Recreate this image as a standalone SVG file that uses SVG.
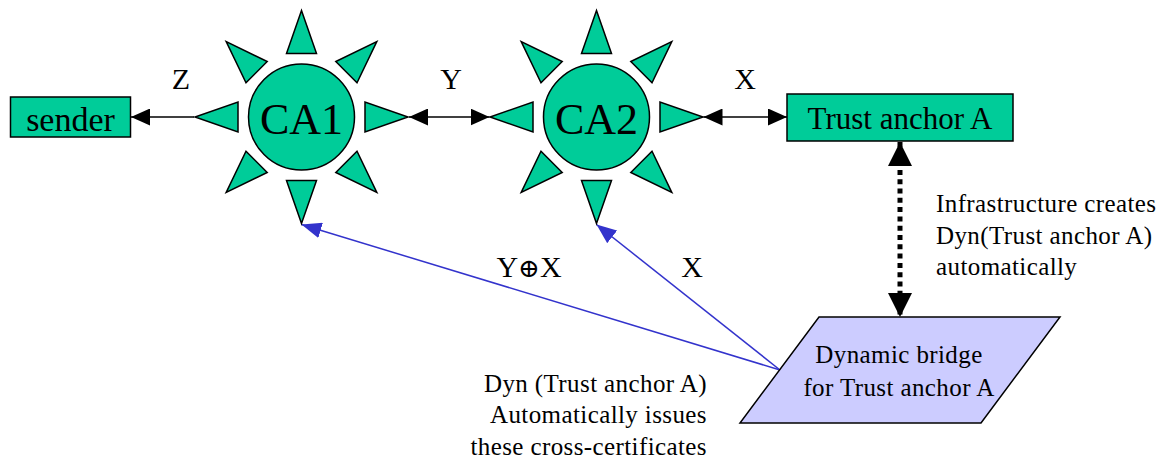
<svg xmlns="http://www.w3.org/2000/svg" width="1169" height="460" viewBox="0 0 1169 460">
  <style>
    .box { fill: #00cc99; stroke: #000; stroke-width: 1.5; }
    .ray { fill: #00cc99; stroke: #000; stroke-width: 1.5; stroke-linejoin: miter; }
    .bridge { fill: #ccccff; stroke: #000; stroke-width: 1.5; }
    text { fill: #000; font-family: "Liberation Serif", "DejaVu Serif", serif; }
    .ca { font-size: 44px; text-anchor: middle; }
    .lbl { font-size: 30px; text-anchor: middle; }
    .oplus { font-family: "DejaVu Serif", "Liberation Serif", serif; font-size: 26px; }
    .note { font-size: 25px; letter-spacing: 0.4px; }
    .link { stroke: #000; stroke-width: 1.5; fill: none; }
    .dyn { stroke: #000; stroke-width: 5; stroke-dasharray: 5 4.3; fill: none; }
    .issue { stroke: #3333cc; stroke-width: 1.5; fill: none; }
  </style>
  <defs>
    <!-- one sun ray, pointing up from the centre -->
    <polygon id="ray" class="ray" points="-15,-63.5 15,-63.5 0,-106.5"/>
    <marker id="head" markerUnits="userSpaceOnUse" markerWidth="19" markerHeight="17" refX="19" refY="8.5" orient="auto-start-reverse">
      <path d="M0,0 L19,8.5 L0,17 z" fill="#000"/>
    </marker>
    <marker id="bighead" markerUnits="userSpaceOnUse" markerWidth="24" markerHeight="24" refX="24" refY="12" orient="auto-start-reverse">
      <path d="M0,0 L24,12 L0,24 z" fill="#000"/>
    </marker>
    <marker id="bluehead" markerUnits="userSpaceOnUse" markerWidth="20" markerHeight="16" refX="20" refY="8" orient="auto">
      <path d="M0,0 L20,8 L0,16 z" fill="#3333cc"/>
    </marker>
  </defs>

  <!-- connectors -->
  <g id="connectors">
    <line class="link" x1="194" y1="117" x2="131" y2="117" marker-end="url(#head)"/>
    <line class="link" x1="409" y1="117" x2="489.5" y2="117" marker-start="url(#head)" marker-end="url(#head)"/>
    <line class="link" x1="703.5" y1="117" x2="787" y2="117" marker-start="url(#head)" marker-end="url(#head)"/>
    <line class="dyn" x1="900" y1="142" x2="900" y2="317" marker-start="url(#bighead)" marker-end="url(#bighead)"/>
    <line class="issue" x1="780" y1="370" x2="301.5" y2="224.5" marker-end="url(#bluehead)"/>
    <line class="issue" x1="780" y1="370" x2="596.5" y2="224.5" marker-end="url(#bluehead)"/>
    <text class="lbl" x="181" y="89">Z</text>
    <text class="lbl" x="451" y="89">Y</text>
    <text class="lbl" x="745" y="89">X</text>
    <text class="lbl" x="529" y="277">Y<tspan class="oplus">⊕</tspan>X</text>
    <text class="lbl" x="692" y="277">X</text>
  </g>

  <!-- sender -->
  <g id="sender">
    <rect class="box" x="10.5" y="97" width="120" height="40"/>
    <text x="70.5" y="131" font-size="34" text-anchor="middle">sender</text>
  </g>

  <!-- CA1 -->
  <g id="ca1" transform="translate(301.5,117)">
    <use href="#ray"/>
    <use href="#ray" transform="rotate(45)"/>
    <use href="#ray" transform="rotate(90)"/>
    <use href="#ray" transform="rotate(135)"/>
    <use href="#ray" transform="rotate(180)"/>
    <use href="#ray" transform="rotate(225)"/>
    <use href="#ray" transform="rotate(270)"/>
    <use href="#ray" transform="rotate(315)"/>
    <circle class="box" cx="0" cy="0" r="53"/>
    <text class="ca" x="0" y="17">CA1</text>
  </g>

  <!-- CA2 -->
  <g id="ca2" transform="translate(596.5,117)">
    <use href="#ray"/>
    <use href="#ray" transform="rotate(45)"/>
    <use href="#ray" transform="rotate(90)"/>
    <use href="#ray" transform="rotate(135)"/>
    <use href="#ray" transform="rotate(180)"/>
    <use href="#ray" transform="rotate(225)"/>
    <use href="#ray" transform="rotate(270)"/>
    <use href="#ray" transform="rotate(315)"/>
    <circle class="box" cx="0" cy="0" r="53"/>
    <text class="ca" x="0" y="17">CA2</text>
  </g>

  <!-- Trust anchor A -->
  <g id="trust-anchor">
    <rect class="box" x="787" y="94" width="226" height="47"/>
    <text x="900" y="129" font-size="31" text-anchor="middle">Trust anchor A</text>
  </g>

  <!-- Dynamic bridge -->
  <g id="bridge">
    <polygon class="bridge" points="819,317 1060,317 981,423 740,423"/>
    <text class="note" x="899" y="363" text-anchor="middle">Dynamic bridge</text>
    <text class="note" x="899" y="396" text-anchor="middle">for Trust anchor A</text>
  </g>

  <!-- notes -->
  <g id="note-infra">
    <text class="note" x="936" y="212">Infrastructure creates</text>
    <text class="note" x="936" y="243.5">Dyn(Trust anchor A)</text>
    <text class="note" x="936" y="275">automatically</text>
  </g>
  <g id="note-issue">
    <text class="note" x="707" y="391.5" text-anchor="end">Dyn (Trust anchor A)</text>
    <text class="note" x="707" y="423" text-anchor="end">Automatically issues</text>
    <text class="note" x="707" y="454.5" text-anchor="end">these cross-certificates</text>
  </g>
</svg>
